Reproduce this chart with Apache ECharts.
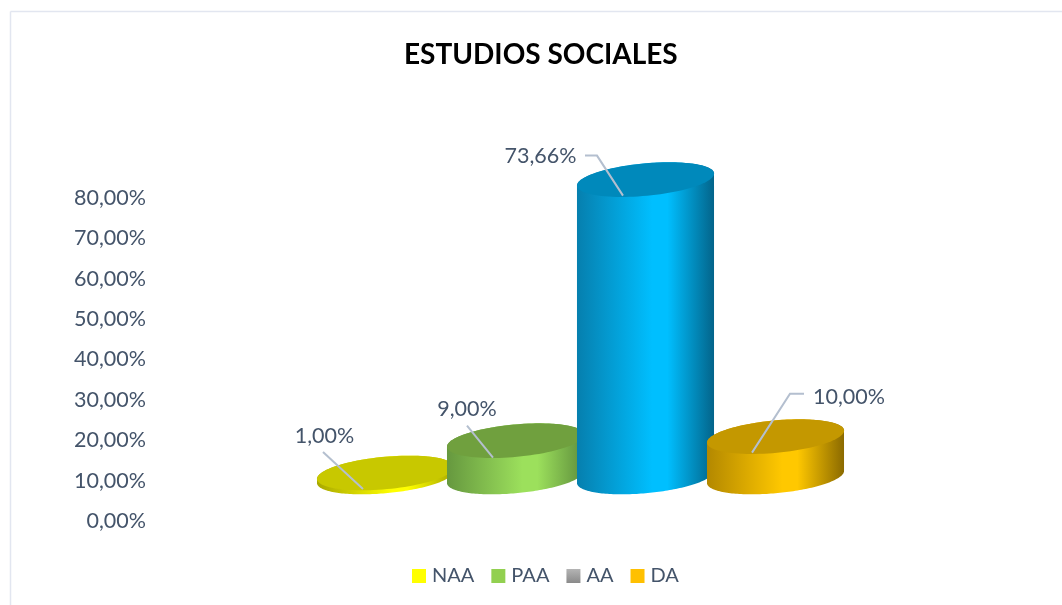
<!DOCTYPE html>
<html>
<head>
<meta charset="utf-8">
<title>ESTUDIOS SOCIALES</title>
<script src="https://cdn.jsdelivr.net/npm/echarts@6/dist/echarts.min.js"></script>
<style>
  html, body { margin: 0; padding: 0; background: #fff; overflow: hidden; }
  #main { width: 1062px; height: 605px; }
</style>
</head>
<body>
<div id="main"></div>
<script>
const categories = ['NAA', 'PAA', 'AA', 'DA']
const values = [1, 9, 73.66, 10]
const yTicks = { min: 0, max: 80, interval: 10 }

// legend swatch per series; the AA cylinder itself is painted blue in the source
const legendColors = [
  '#ffff00',
  '#92d050',
  new echarts.graphic.LinearGradient(0, 0, 0, 1, [
    { offset: 0, color: '#b4b4b4' },
    { offset: 1, color: '#8a8a8a' }
  ]),
  '#ffc000'
]
const topColors = ['#c8c800', '#70a03e', '#0089bb', '#c49800']
const sideLeft = ['#a8a800', '#66983f', '#067fae', '#b38800']
const sideLight = ['#ffff00', '#9ce05c', '#00bfff', '#ffc800']
const sideRight = ['#a8a800', '#5f8f3c', '#03648a', '#8b6a00']

// leader line, relative to the centre of the top ellipse, and where the text sits
const leaders = [
  { pts: [[-22.5, 16], [-62.5, -21]], text: [-61, -37], align: 'center' },
  { pts: [[-22.5, 17], [-48.5, -15]], text: [-48.5, -32], align: 'center' },
  { pts: [[-22.5, 16], [-48.5, -24], [-60.5, -24]], text: [-69, -24], align: 'right' },
  { pts: [[-23.5, 16], [14.5, -43], [28.5, -43]], text: [37.5, -40], align: 'left' }
]

const TEXT_COLOR = '#44546a'
const FONT = 'Lato, "Open Sans", sans-serif'
const RX = 68.8
const RY = 16.2
const TILT = 5.3 * Math.PI / 180
const DEPTH = 44 // the floor of the 3D box sits above the 0,00% label

function pct(v) {
  return v.toFixed(2).replace('.', ',') + '%'
}

function ellipsePoint(cx, cy, t) {
  const x = RX * Math.cos(t)
  const y = RY * Math.sin(t)
  return [
    cx + x * Math.cos(TILT) + y * Math.sin(TILT),
    cy - x * Math.sin(TILT) + y * Math.cos(TILT)
  ]
}

function ellipsePoints(cx, cy, from, to) {
  const pts = []
  for (let i = 0; i <= 96; i++) {
    pts.push(ellipsePoint(cx, cy, from + (to - from) * i / 96))
  }
  return pts
}

function renderCylinder(params, api) {
  const idx = api.value(0)
  const base = api.coord([idx, 0])
  const top = api.coord([idx, api.value(1)])
  const cx = base[0]
  const baseY = base[1] - DEPTH
  const topY = top[1] - DEPTH

  // left and right extreme of the tilted ellipse
  const tEdge = Math.atan2(RY * Math.sin(TILT), RX * Math.cos(TILT))
  const side = ellipsePoints(cx, baseY, tEdge, tEdge + Math.PI)
    .concat(ellipsePoints(cx, topY, tEdge + Math.PI, tEdge + 2 * Math.PI))

  const leader = leaders[idx]
  return {
    type: 'group',
    children: [
      {
        type: 'polygon',
        shape: { points: side },
        style: {
          fill: new echarts.graphic.LinearGradient(0, 0, 1, 0, [
            { offset: 0, color: sideLeft[idx] },
            { offset: 0.55, color: sideLight[idx] },
            { offset: 0.66, color: sideLight[idx] },
            { offset: 1, color: sideRight[idx] }
          ])
        }
      },
      {
        type: 'polygon',
        shape: { points: ellipsePoints(cx, topY, 0, 2 * Math.PI) },
        style: { fill: topColors[idx] }
      },
      {
        type: 'polyline',
        shape: { points: leader.pts.map(p => [cx + p[0], topY + p[1]]) },
        style: { stroke: '#b4bfcf', lineWidth: 2, fill: null }
      },
      {
        type: 'text',
        style: {
          x: cx + leader.text[0],
          y: topY + leader.text[1],
          text: pct(api.value(1)),
          fill: TEXT_COLOR,
          font: '21.5px ' + FONT,
          align: leader.align,
          verticalAlign: 'middle'
        }
      }
    ]
  }
}

const chart = echarts.init(document.getElementById('main'))

chart.setOption({
  animation: false,
  backgroundColor: '#fff',
  title: {
    text: 'ESTUDIOS SOCIALES',
    left: 399,
    top: 36,
    textStyle: { color: '#000', fontSize: 28, fontWeight: 'bold', fontFamily: FONT }
  },
  graphic: [
    { type: 'line', shape: { x1: 10.5, y1: 11.5, x2: 1062, y2: 11.5 }, style: { stroke: '#e2e6f0', lineWidth: 1.5 } },
    { type: 'line', shape: { x1: 10.5, y1: 11.5, x2: 10.5, y2: 605 }, style: { stroke: '#e2e6f0', lineWidth: 1.5 } }
  ],
  legend: {
    data: categories,
    left: 407,
    top: 561,
    itemWidth: 14,
    itemHeight: 14,
    itemGap: 17,
    icon: 'rect',
    textStyle: { color: TEXT_COLOR, fontSize: 20, fontFamily: FONT, padding: [0, 0, 0, 1] }
  },
  grid: { left: 320.5, width: 520, top: 198, height: 323 },
  xAxis: {
    type: 'category',
    data: categories,
    show: false
  },
  yAxis: {
    type: 'value',
    min: yTicks.min,
    max: yTicks.max,
    interval: yTicks.interval,
    axisLine: { show: false },
    axisTick: { show: false },
    splitLine: { show: false },
    axisLabel: {
      margin: 174.5,
      color: TEXT_COLOR,
      fontSize: 21.5,
      fontFamily: FONT,
      formatter: pct
    }
  },
  series: categories.map((name, i) => ({
    type: 'custom',
    name: name,
    z: i + 2,
    clip: false,
    itemStyle: { color: legendColors[i] },
    encode: { x: 0, y: 1 },
    data: [[i, values[i]]],
    renderItem: renderCylinder
  }))
})
</script>
</body>
</html>
